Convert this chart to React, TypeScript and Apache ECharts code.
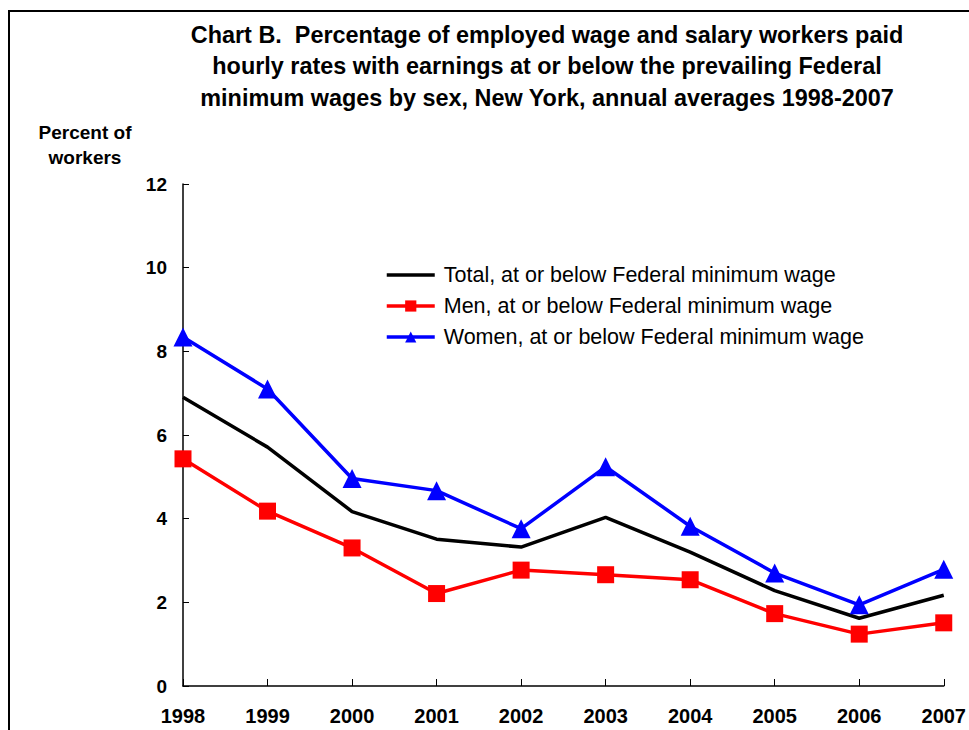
import React, { useEffect, useRef } from "react";
import * as echarts from "echarts";

const years = ["1998", "1999", "2000", "2001", "2002", "2003", "2004", "2005", "2006", "2007"];
const totalValues = [6.9, 5.71, 4.17, 3.51, 3.32, 4.03, 3.2, 2.28, 1.62, 2.17];
const menValues = [5.43, 4.18, 3.3, 2.21, 2.77, 2.66, 2.54, 1.73, 1.24, 1.51];
const womenValues = [8.34, 7.1, 4.96, 4.67, 3.76, 5.24, 3.82, 2.7, 1.94, 2.79];
const seriesNames = [
  "Total, at or below Federal minimum wage",
  "Men, at or below Federal minimum wage",
  "Women, at or below Federal minimum wage",
];
const titleText =
  "Chart B.  Percentage of employed wage and salary workers paid\nhourly rates with earnings at or below the prevailing Federal\nminimum wages by sex, New York, annual averages 1998-2007";
const yAxisTitle = "Percent of\nworkers";

const FONT = "'Liberation Sans', Arial, Helvetica, sans-serif";

export default function App() {
  const ref = useRef<HTMLDivElement>(null);
  useEffect(() => {
    if (!ref.current) return;
    const chart = echarts.init(ref.current, null, { renderer: "svg" });
    chart.setOption({
      animation: false,
      backgroundColor: "#ffffff",
      textStyle: { fontFamily: FONT },
      title: {
        text: titleText,
        left: 542,
        top: 14,
        textAlign: "center",
        textStyle: {
          fontFamily: FONT,
          fontSize: 23.4,
          fontWeight: "bold",
          color: "#000",
          lineHeight: 31.5,
        },
      },
      graphic: [
        {
          type: "line",
          shape: { x1: 8, y1: 11, x2: 969, y2: 11 },
          style: { stroke: "#000", lineWidth: 2 },
        },
        {
          type: "line",
          shape: { x1: 9, y1: 10, x2: 9, y2: 730 },
          style: { stroke: "#000", lineWidth: 2 },
        },
        {
          type: "text",
          x: 85,
          y: 120,
          style: {
            text: yAxisTitle,
            fontFamily: FONT,
            fontSize: 19,
            fontWeight: "bold",
            fill: "#000",
            align: "center",
            lineHeight: 25,
          },
        },
      ],
      legend: {
        orient: "vertical",
        left: 380,
        top: 259,
        itemWidth: 48,
        itemHeight: 14,
        itemGap: 9,
        textStyle: {
          fontFamily: FONT,
          fontSize: 21.5,
          color: "#000",
          padding: [0, 0, 0, 4],
        },
        lineStyle: { width: 3.5 },
        data: [
          { name: seriesNames[0], itemStyle: { opacity: 0 } },
          { name: seriesNames[1] },
          { name: seriesNames[2] },
        ],
      },
      grid: { left: 183, right: 24, top: 184, bottom: 44 },
      xAxis: {
        type: "category",
        data: years,
        boundaryGap: false,
        axisLine: { lineStyle: { color: "#000", width: 1.5 } },
        axisTick: { inside: true, length: 7, lineStyle: { color: "#000" } },
        axisLabel: {
          fontFamily: FONT,
          fontSize: 20,
          fontWeight: "bold",
          color: "#000",
          margin: 20,
        },
        splitLine: { show: false },
      },
      yAxis: {
        type: "value",
        min: 0,
        max: 12,
        interval: 2,
        axisLine: { show: true, lineStyle: { color: "#000", width: 1.5 } },
        axisTick: { show: true, inside: true, length: 6, lineStyle: { color: "#000" } },
        axisLabel: {
          fontFamily: FONT,
          fontSize: 19,
          fontWeight: "bold",
          color: "#000",
          margin: 16,
        },
        splitLine: { show: false },
      },
      series: [
        {
          name: seriesNames[0],
          type: "line",
          data: totalValues,
          symbol: "none",
          lineStyle: { color: "#000000", width: 3.5 },
          itemStyle: { color: "#000000" },
          z: 2,
        },
        {
          name: seriesNames[1],
          type: "line",
          data: menValues,
          symbol: "rect",
          symbolSize: 17,
          lineStyle: { color: "#ff0000", width: 3.5 },
          itemStyle: { color: "#ff0000" },
          z: 3,
        },
        {
          name: seriesNames[2],
          type: "line",
          data: womenValues,
          symbol: "triangle",
          symbolSize: 19,
          lineStyle: { color: "#0000ff", width: 3.5 },
          itemStyle: { color: "#0000ff" },
          z: 4,
        },
      ],
    });
    return () => chart.dispose();
  }, []);
  return (
    <div
      ref={ref}
      style={{ position: "fixed", left: 0, top: 0, width: 969, height: 730 }}
    />
  );
}
